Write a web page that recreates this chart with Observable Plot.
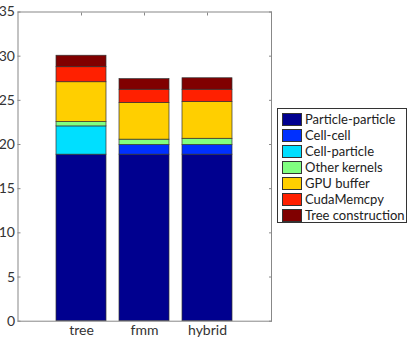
<!DOCTYPE html>
<html>
<head>
<meta charset="utf-8">
<script src="https://cdn.jsdelivr.net/npm/d3@7"></script>
<script src="https://cdn.jsdelivr.net/npm/@observablehq/plot@0.6"></script>
<style>
  body { margin: 0; background: #fff; }
  #wrap { position: relative; width: 415px; height: 341px; font-family: Lato, "DejaVu Sans", sans-serif; }
  #legend { position: absolute; left: 277px; top: 108px; width: 130px; height: 115px; border: 1px solid #333; background: #fff; box-sizing: border-box; padding-top: 2px; }
  .row { display: flex; align-items: center; height: 16px; font-size: 13px; color: #222; white-space: nowrap; }
  .sw { width: 20px; height: 13px; margin-left: 4px; margin-right: 3px; border: 1px solid #333; box-sizing: border-box; }
</style>
</head>
<body>
<div id="wrap"></div>
<script>
const categories = ["tree", "fmm", "hybrid"];
const series = ["Particle-particle", "Cell-cell", "Cell-particle", "Other kernels", "GPU buffer", "CudaMemcpy", "Tree construction"];
const colors = ["#00008f", "#0030ff", "#00dfff", "#80ff80", "#ffcf00", "#ff2000", "#800000"];
const particleParticle = [18.85, 18.85, 18.85];
const cellCell = [0, 1.1, 1.1];
const cellParticle = [3.2, 0, 0];
const otherKernels = [0.5, 0.6, 0.7];
const gpuBuffer = [4.5, 4.15, 4.15];
const cudaMemcpy = [1.7, 1.5, 1.4];
const treeConstruction = [1.3, 1.2, 1.3];
const yTicks = [0, 5, 10, 15, 20, 25, 30, 35];

const seriesValues = [particleParticle, cellCell, cellParticle, otherKernels, gpuBuffer, cudaMemcpy, treeConstruction];
const data = [];
series.forEach((s, si) => categories.forEach((c, ci) => data.push({category: c, series: s, value: seriesValues[si][ci]})));

const font = 'Lato, "DejaVu Sans", sans-serif';
const plot = Plot.plot({
  width: 415,
  height: 341,
  marginLeft: 17.5,
  marginRight: 144,
  marginTop: 11.5,
  marginBottom: 20.3,
  style: {fontFamily: font, fontSize: "14px", color: "#333", background: "white"},
  x: {domain: categories, paddingInner: 0.2, paddingOuter: 0.6, label: null},
  y: {domain: [0, 35], label: null},
  color: {domain: series, range: colors},
  marks: [
    Plot.barY(data, Plot.stackY({order: series, x: "category", y: "value", fill: "series", stroke: "#333", strokeWidth: 0.7, filter: d => d.value > 0})),
    Plot.frame({stroke: "#888", strokeWidth: 1}),
    Plot.axisY(yTicks, {anchor: "left", tickSize: 0, tickPadding: 3, fontSize: 14, fill: "#333"}),
    Plot.axisY(yTicks, {anchor: "left", tickSize: -3, text: null, stroke: "#888"}),
    Plot.axisY(yTicks, {anchor: "right", tickSize: -3, text: null, stroke: "#888"}),
    Plot.axisX({anchor: "bottom", tickSize: 0, tickPadding: 4, fontSize: 14, fill: "#333"}),
    Plot.axisX({anchor: "top", tickSize: -3, text: null, stroke: "#888"})
  ]
});
const wrap = document.getElementById("wrap");
wrap.appendChild(plot);

const legend = document.createElement("div");
legend.id = "legend";
series.forEach((s, i) => {
  const row = document.createElement("div");
  row.className = "row";
  const sw = document.createElement("div");
  sw.className = "sw";
  sw.style.background = colors[i];
  const t = document.createElement("span");
  t.textContent = s;
  row.appendChild(sw);
  row.appendChild(t);
  legend.appendChild(row);
});
wrap.appendChild(legend);
</script>
</body>
</html>
